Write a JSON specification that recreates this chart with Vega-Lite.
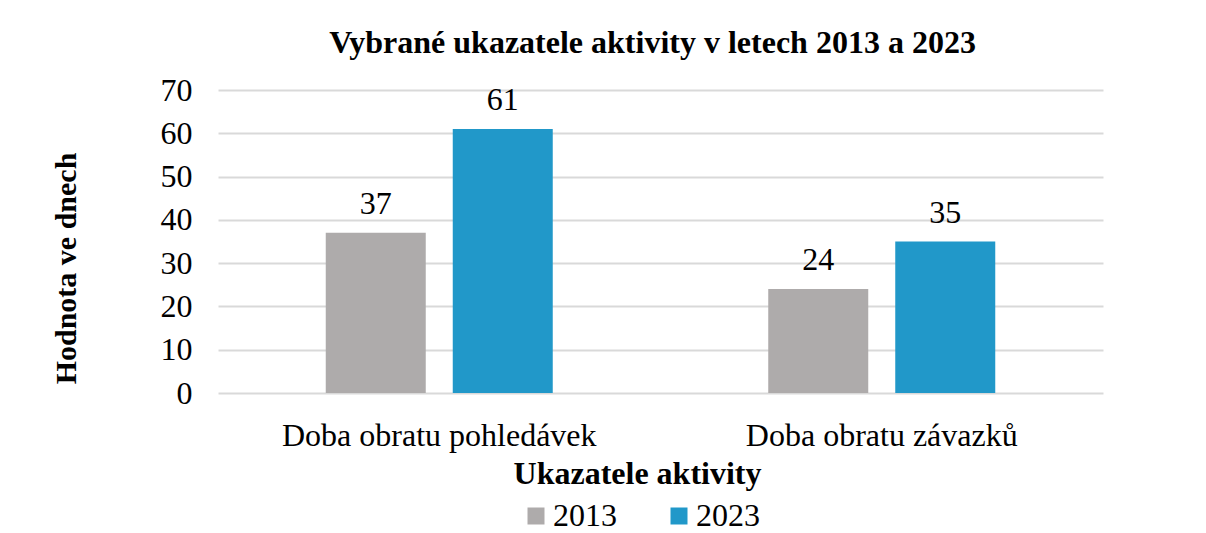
{
  "$schema": "https://vega.github.io/schema/vega-lite/v6.json",
  "width": 885,
  "height": 303,
  "autosize": {"type": "none"},
  "padding": {"left": 218, "top": 90, "right": 103, "bottom": 140},
  "background": "white",
  "data": {
    "values": [
      {"ukazatel": "Doba obratu pohledávek", "rok": "2013", "hodnota": 37},
      {"ukazatel": "Doba obratu pohledávek", "rok": "2023", "hodnota": 61},
      {"ukazatel": "Doba obratu závazků", "rok": "2013", "hodnota": 24},
      {"ukazatel": "Doba obratu závazků", "rok": "2023", "hodnota": 35}
    ]
  },
  "title": {
    "text": "Vybrané ukazatele aktivity v letech 2013 a 2023",
    "font": "Liberation Serif",
    "fontSize": 32,
    "fontWeight": "bold",
    "color": "black",
    "anchor": "middle",
    "frame": "group",
    "baseline": "alphabetic",
    "offset": -11,
    "dx": -8
  },
  "config": {
    "view": {"stroke": null},
    "font": "Liberation Serif"
  },
  "encoding": {
    "x": {
      "field": "ukazatel",
      "type": "nominal",
      "sort": ["Doba obratu pohledávek", "Doba obratu závazků"],
      "scale": {"paddingInner": 0.487, "paddingOuter": 0.2435},
      "axis": {
        "title": "Ukazatele aktivity",
        "titleFont": "Liberation Serif",
        "titleFontSize": 32,
        "titleFontWeight": "bold",
        "titleColor": "black",
        "titleX": 419,
        "titleY": 90,
        "titleBaseline": "alphabetic",
        "titleAlign": "center",
        "labelAngle": 0,
        "labelFont": "Liberation Serif",
        "labelFontSize": 32,
        "labelColor": "black",
        "labelBaseline": "alphabetic",
        "labelPadding": 52,
        "labelLimit": 0,
        "ticks": false,
        "domain": false,
        "grid": false
      }
    },
    "xOffset": {
      "field": "rok",
      "type": "nominal",
      "scale": {"paddingInner": 0.2126, "paddingOuter": 0}
    }
  },
  "layer": [
    {
      "mark": {"type": "bar"},
      "encoding": {
        "y": {
          "field": "hodnota",
          "type": "quantitative",
          "scale": {"domain": [0, 70], "nice": false},
          "axis": {
            "values": [0, 10, 20, 30, 40, 50, 60, 70],
            "title": "Hodnota ve dnech",
            "titleFont": "Liberation Serif",
            "titleFontSize": 30,
            "titleFontWeight": "bold",
            "titleColor": "black",
            "titleAngle": -90,
            "titleX": -143,
            "titleY": 178,
            "titleAlign": "center",
            "titleBaseline": "alphabetic",
            "labelFont": "Liberation Serif",
            "labelFontSize": 32,
            "labelColor": "black",
            "labelPadding": 26,
            "ticks": false,
            "domain": false,
            "grid": true,
            "gridColor": "#d9d9d9",
            "gridWidth": 2
          }
        },
        "color": {
          "field": "rok",
          "type": "nominal",
          "scale": {"domain": ["2013", "2023"], "range": ["#aeabab", "#2198c9"]},
          "legend": {
            "title": null,
            "orient": "none",
            "direction": "horizontal",
            "legendX": 302,
            "legendY": 410,
            "padding": 0,
            "symbolType": "square",
            "symbolSize": 289,
            "symbolStrokeWidth": 0,
            "symbolOpacity": 1,
            "labelFont": "Liberation Serif",
            "labelFontSize": 32,
            "labelColor": "black",
            "labelOffset": 1,
            "columnPadding": 46
          }
        }
      }
    },
    {
      "mark": {"type": "text", "baseline": "alphabetic", "dy": -19, "font": "Liberation Serif", "fontSize": 32, "color": "black"},
      "encoding": {
        "y": {"field": "hodnota", "type": "quantitative"},
        "text": {"field": "hodnota", "type": "quantitative"}
      }
    }
  ]
}
